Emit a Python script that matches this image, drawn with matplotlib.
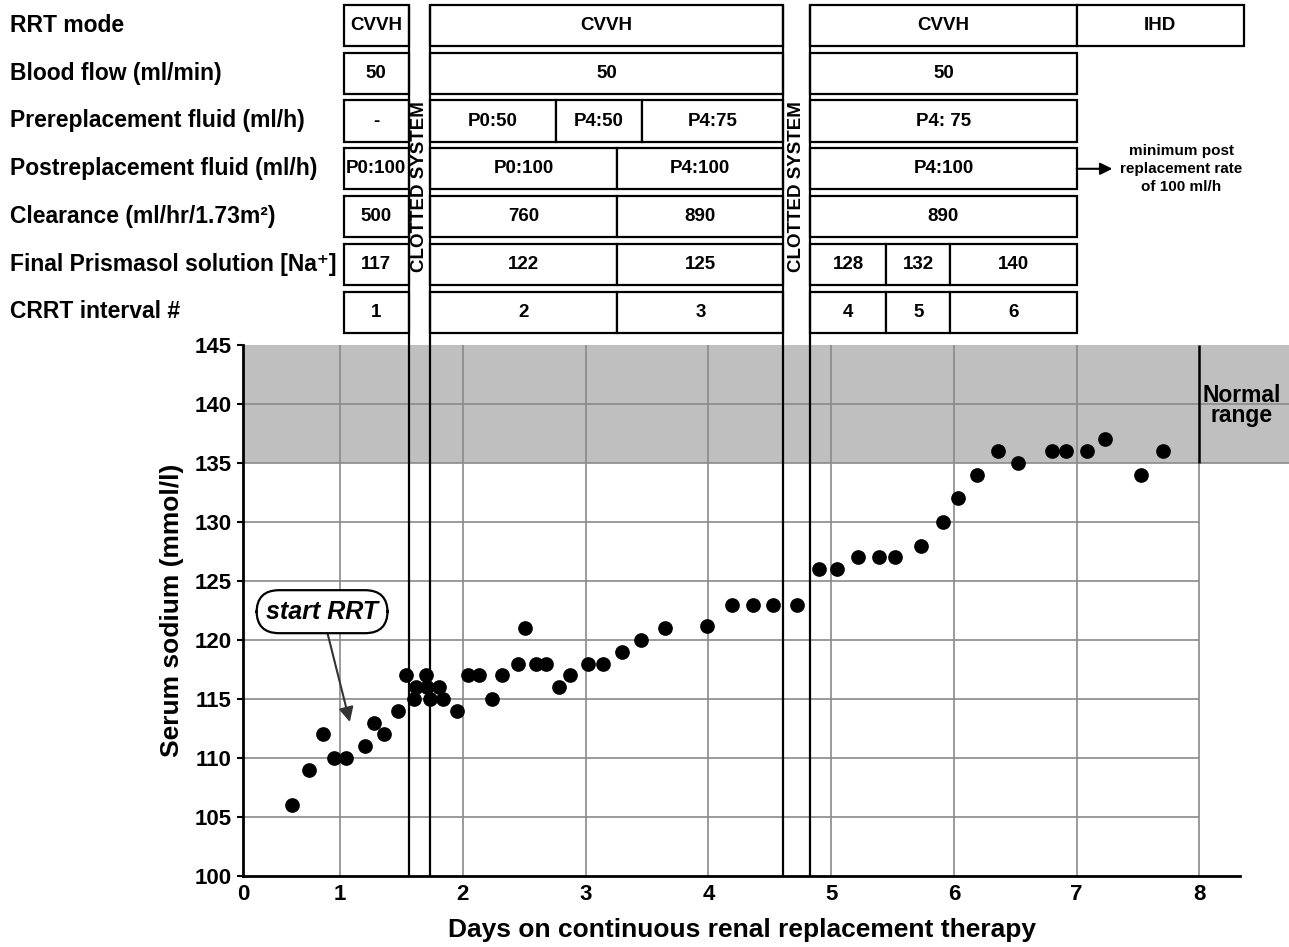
import numpy as np
import matplotlib.pyplot as plt
from matplotlib.patches import Rectangle

plt.rcParams['font.family'] = ['Liberation Sans', 'DejaVu Sans']
plt.rcParams['font.weight'] = 'bold'
plt.rcParams['axes.labelweight'] = 'bold'

# serum sodium readings (days on CRRT, mmol/l)
days = [0.61, 0.75, 0.86, 0.95, 1.05, 1.20, 1.28, 1.36, 1.47, 1.54,
        1.60, 1.62, 1.70, 1.71, 1.73, 1.81, 1.84, 1.95, 2.04, 2.13,
        2.24, 2.32, 2.45, 2.51, 2.60, 2.68, 2.78, 2.87, 3.02, 3.14,
        3.30, 3.45, 3.65, 3.99, 4.19, 4.36, 4.53, 4.72, 4.90, 5.05,
        5.22, 5.39, 5.52, 5.73, 5.91, 6.03, 6.19, 6.36, 6.52, 6.80,
        6.91, 7.08, 7.23, 7.52, 7.70]
sodium = [106, 109, 112, 110, 110, 111, 113, 112, 114, 117,
          115, 116, 117, 116, 115, 116, 115, 114, 117, 117,
          115, 117, 118, 121, 118, 118, 116, 117, 118, 118,
          119, 120, 121, 121.2, 123, 123, 123, 123, 126, 126,
          127, 127, 127, 128, 130, 132, 134, 136, 135, 136,
          136, 136, 137, 134, 136]

x_ticks = [0.21, 1, 2, 3, 4, 5, 6, 7, 8]
x_ticklabels = ['0', '1', '2', '3', '4', '5', '6', '7', '8']
y_ticks = [100, 105, 110, 115, 120, 125, 130, 135, 140, 145]

normal_low, normal_high = 135, 145
clot_periods = [(1.56, 1.73), (4.61, 4.83)]

row_labels = ['RRT mode', 'Blood flow (ml/min)', 'Prereplacement fluid (ml/h)',
              'Postreplacement fluid (ml/h)', 'Clearance (ml/hr/1.73m²)',
              'Final Prismasol solution [Na⁺]', 'CRRT interval #']

row_texts = [
    ['CVVH', 'CVVH', 'CVVH', 'IHD'],
    ['50', '50', '50'],
    ['-', 'P0:50', 'P4:50', 'P4:75', 'P4: 75'],
    ['P0:100', 'P0:100', 'P4:100', 'P4:100'],
    ['500', '760', '890', '890'],
    ['117', '122', '125', '128', '132', '140'],
    ['1', '2', '3', '4', '5', '6'],
]
# box edges (days) for each row
row_edges = [
    [(1.03, 1.56), (1.73, 4.61), (4.83, 7.0), (7.0, 8.36)],
    [(1.03, 1.56), (1.73, 4.61), (4.83, 7.0)],
    [(1.03, 1.56), (1.73, 2.76), (2.76, 3.46), (3.46, 4.61), (4.83, 7.0)],
    [(1.03, 1.56), (1.73, 3.26), (3.26, 4.61), (4.83, 7.0)],
    [(1.03, 1.56), (1.73, 3.26), (3.26, 4.61), (4.83, 7.0)],
    [(1.03, 1.56), (1.73, 3.26), (3.26, 4.61), (4.83, 5.45), (5.45, 5.97), (5.97, 7.0)],
    [(1.03, 1.56), (1.73, 3.26), (3.26, 4.61), (4.83, 5.45), (5.45, 5.97), (5.97, 7.0)],
]

W, H = 1289, 947
fig = plt.figure(figsize=(W / 100, H / 100), dpi=100)
L, R = 243 / W, 1240 / W
B, T = 1 - 876 / H, 1 - 345 / H
ax = fig.add_axes([L, B, R - L, T - B])
tab = fig.add_axes([L, T, R - L, 1 - T])

xmin, xmax = 0.21, 8.33
band_end = 8.735
gridc = '#8a8a8a'

ax.set_xlim(xmin, xmax)
ax.set_ylim(100, 145)

# normal range band
ax.add_patch(Rectangle((xmin, normal_low), band_end - xmin, normal_high - normal_low,
                       facecolor='#bfbfbf', edgecolor='none', clip_on=False, zorder=0))

# grid
for y in y_ticks[1:-1]:
    end = band_end if y >= normal_low else 8
    ax.hlines(y, xmin, end, color=gridc, lw=1.2, zorder=1, clip_on=False)
for x in x_ticks[1:-1]:
    ax.vlines(x, 100, 145, color=gridc, lw=1.2, zorder=1)
ax.vlines(8, 100, normal_low, color=gridc, lw=1.2, zorder=1)
ax.vlines(8, normal_low, normal_high, color='black', lw=1.8, zorder=2)

for a, b in clot_periods:
    ax.vlines([a, b], 100, 145, color='black', lw=1.6, zorder=2)

ax.scatter(days, sodium, s=112, color='black', zorder=5, linewidths=0)

ax.text(8.345, 139.9, 'Normal\nrange', ha='center', va='center', fontsize=16.5,
        linespacing=0.85, clip_on=False)

ax.annotate('start RRT', xy=(1.08, 113.05), xytext=(0.854, 122.4),
            fontsize=18, style='italic', ha='center', va='center',
            bbox=dict(boxstyle='round,pad=0.38,rounding_size=0.9', fc='white', ec='black', lw=1.6),
            arrowprops=dict(arrowstyle='-|>', color='#333333', lw=1.5, mutation_scale=22,
                            shrinkA=0, shrinkB=0))

ax.set_xticks(x_ticks)
ax.set_xticklabels(x_ticklabels)
ax.set_yticks(y_ticks)
ax.tick_params(axis='x', length=0, pad=6, labelsize=16)
ax.tick_params(axis='y', length=4, width=1.5, pad=4, labelsize=16)
for s in ['top', 'right']:
    ax.spines[s].set_visible(False)
for s in ['bottom', 'left']:
    ax.spines[s].set_linewidth(2)
ax.set_xlabel('Days on continuous renal replacement therapy', fontsize=19, labelpad=9)
ax.set_ylabel('Serum sodium (mmol/l)', fontsize=19, labelpad=8)

# table above the plot
tab.set_xlim(xmin, xmax)
tab.set_ylim(6.69, -0.534)
tab.axis('off')
hh = 0.43
for i, (edges, texts) in enumerate(zip(row_edges, row_texts)):
    for (a, b), t in zip(edges, texts):
        tab.add_patch(Rectangle((a, i - hh), b - a, 2 * hh, fc='white', ec='black',
                                lw=1.6, clip_on=False))
        tab.text((a + b) / 2, i, t, ha='center', va='center', fontsize=13.5, clip_on=False)
    fig.text(10 / W, 1 - (25.5 + i * 47.75) / H, row_labels[i], ha='left', va='center',
             fontsize=16.5)

for a, b in clot_periods:
    tab.vlines([a, b], -hh, 6.69, color='black', lw=1.6, clip_on=False)
    tab.text((a + b) / 2, 3.38, 'CLOTTED SYSTEM', rotation=90, ha='center', va='center',
             fontsize=13.5)

tab.annotate('', xy=(7.29, 3), xytext=(7.0, 3),
             arrowprops=dict(arrowstyle='-|>', color='black', lw=1.5, mutation_scale=18,
                             shrinkA=0, shrinkB=0))
tab.text(7.85, 3.0, 'minimum post\nreplacement rate\nof 100 ml/h', ha='center', va='center',
         fontsize=11, linespacing=1.35, clip_on=False)

fig.savefig('out.png', dpi=100)
